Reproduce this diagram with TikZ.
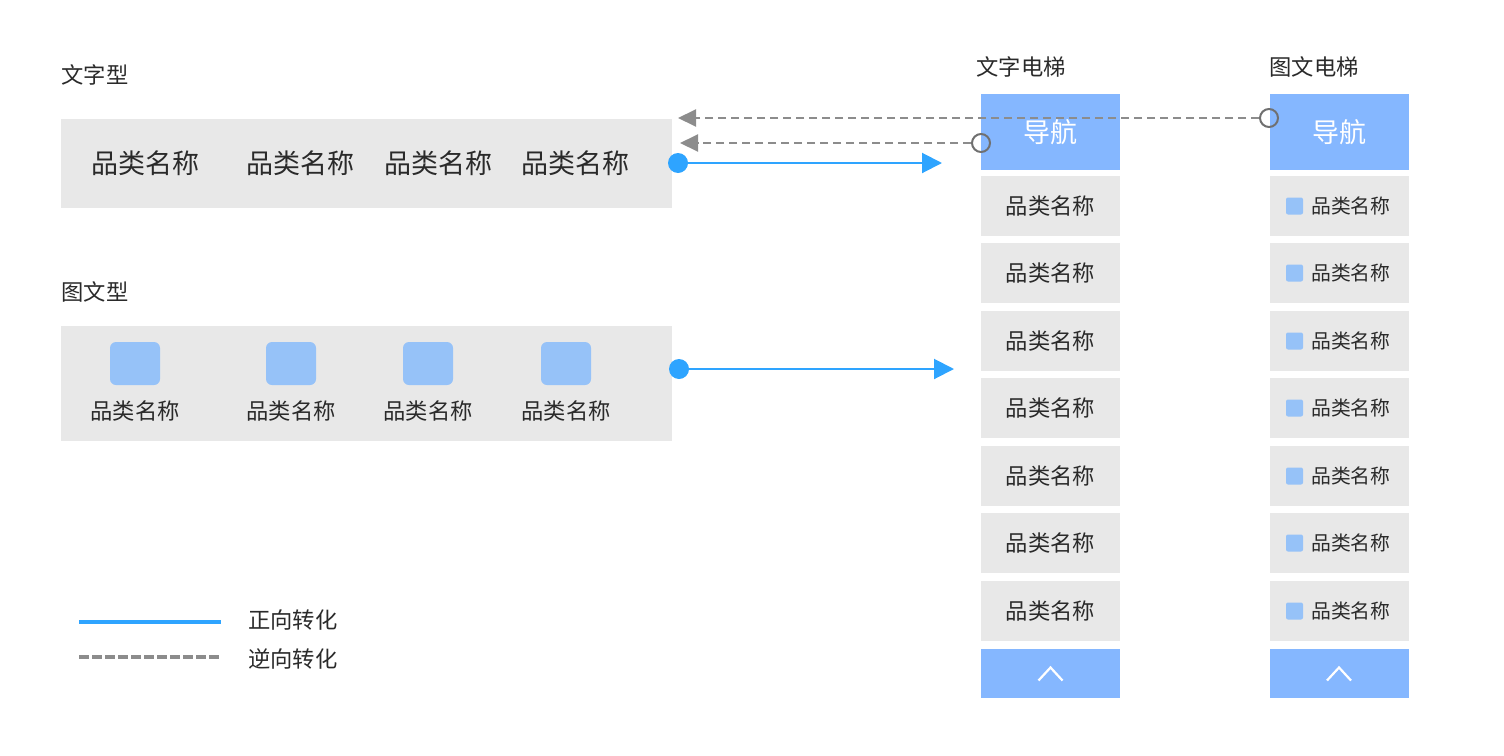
\documentclass[tikz,border=0pt]{standalone}
\usepackage{fontspec}
\setmainfont{Noto Sans CJK SC}
\usetikzlibrary{arrows.meta}
\definecolor{barbg}{HTML}{E8E8E8}
\definecolor{navblue}{HTML}{85B7FF}
\definecolor{iconblue}{HTML}{96C2F8}
\definecolor{fwdblue}{HTML}{2EA4FF}
\definecolor{revgray}{HTML}{8C8C8C}
\definecolor{txt}{HTML}{2A2A2A}
\tikzset{
  bar/.style={fill=barbg, draw=none, minimum width=611pt, inner sep=0},
  item/.style={fill=barbg, draw=none, minimum width=139pt, minimum height=60pt, inner sep=0, text=txt, font=\fontsize{22.3}{22.3}\selectfont},
  nav/.style={fill=navblue, draw=none, minimum width=139pt, minimum height=76pt, inner sep=0, text=white, font=\fontsize{27}{27}\selectfont},
  upbtn/.style={fill=navblue, draw=none, minimum width=139pt, minimum height=49pt, inner sep=0},
  title/.style={text=txt, font=\fontsize{22.3}{22.3}\selectfont, inner sep=0},
  lbl/.style={text=txt, font=\fontsize{27}{27}\selectfont, inner sep=0},
  slbl/.style={text=txt, font=\fontsize{22.3}{22.3}\selectfont, inner sep=0},
  icon/.style={fill=iconblue, draw=none, rounded corners=6pt, minimum width=50pt, minimum height=43pt, inner sep=0},
  smicon/.style={fill=iconblue, draw=none, rounded corners=2pt, minimum width=17pt, minimum height=17pt, inner sep=0},
  fwd/.style={draw=fwdblue, line width=2pt, -{Triangle[length=20pt,width=20pt]}},
  rev/.style={draw=revgray, line width=2pt, dash pattern=on 8pt off 5pt, -{Triangle[length=18pt,width=17pt]}},
  fdot/.style={circle, fill=fwdblue, minimum size=20pt, inner sep=0},
  odot/.style={circle, draw=revgray!80!black, line width=2pt, fill=none, minimum size=18pt, inner sep=0},
  chev/.style={white, line width=2.2pt},
}
\begin{document}
\begin{tikzpicture}[x=1pt,y=-1pt]
\useasboundingbox (0,0) rectangle (1504,755);

% text type
\node[title] (t1) at (95,75) {文字型};
\node[bar, minimum height=89pt] (bar1) at (366.5,163.5) {};
\node[lbl] (a1) at (145,163) {品类名称};
\node[lbl] (a2) at (300,163) {品类名称};
\node[lbl] (a3) at (438,163) {品类名称};
\node[lbl] (a4) at (575,163) {品类名称};

% icon type
\node[title] (t2) at (95,292) {图文型};
\node[bar, minimum height=115pt] (bar2) at (366.5,383.5) {};
\foreach \x/\n in {135/1,291/2,428/3,566/4}{
  \node[icon] (ic\n) at (\x,363.5) {};
  \node[slbl] (il\n) at (\x,411) {品类名称};
}

% text elevator
\node[title] (t3) at (1021,67) {文字电梯};
\node[nav] (nav1) at (1050.5,132) {导航};
\foreach \y/\n in {206/1,273/2,341/3,408/4,476/5,543/6,611/7}{
  \node[item] (e\n) at (1050.5,\y) {品类名称};
}
\node[upbtn] (up1) at (1050.5,673.5) {};
\draw[chev] ([xshift=-12pt,yshift=-7pt]up1.center) -- ([yshift=6pt]up1.center) -- ([xshift=12pt,yshift=-7pt]up1.center);

% icon elevator
\node[title] (t4) at (1314,67) {图文电梯};
\node[nav] (nav2) at (1339,132) {导航};
\foreach \y/\n in {206/1,273/2,341/3,408/4,476/5,543/6,611/7}{
  \node[item] (g\n) at (1339,\y) {};
  \node[smicon] (gi\n) at (1294.5,\y) {};
  \node[slbl, anchor=west, font=\fontsize{19.8}{19.8}\selectfont] (gl\n) at (1311,\y) {品类名称};
}
\node[upbtn] (up2) at (1339,673.5) {};
\draw[chev] ([xshift=-12pt,yshift=-7pt]up2.center) -- ([yshift=6pt]up2.center) -- ([xshift=12pt,yshift=-7pt]up2.center);

% connectors
\coordinate (tip1) at (942,163);
\coordinate (tip2) at (954,369);
\coordinate (rtip1) at (678,118);
\coordinate (rtip2) at (680,143);
\node[fdot] (d1) at (678,163) {};
\node[fdot] (d2) at (679,369) {};
\draw[fwd] (d1.center) -- (tip1);
\draw[fwd] (d2.center) -- (tip2);
\node[odot] (o1) at (1269,118) {};
\node[odot] (o2) at (981,143) {};
\draw[rev] (o1.west) -- (rtip1);
\draw[rev] (o2.west) -- (rtip2);

% legend
\coordinate (l1a) at (79,622);
\coordinate (l1b) at (221,622);
\coordinate (l2a) at (79,657);
\coordinate (l2b) at (221,657);
\draw[fwdblue, line width=4pt] (l1a) -- (l1b);
\draw[revgray, line width=4pt, dash pattern=on 10pt off 3pt] (l2a) -- (l2b);
\node[slbl, anchor=west] (lg1) at (248,620) {正向转化};
\node[slbl, anchor=west] (lg2) at (248,659) {逆向转化};
\end{tikzpicture}
\end{document}
